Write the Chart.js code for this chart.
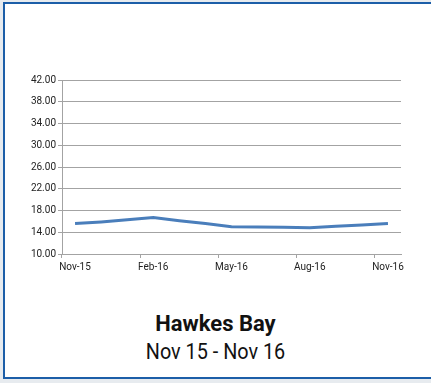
<!DOCTYPE html>
<html>
<head>
<meta charset="utf-8">
<script src="https://cdn.jsdelivr.net/npm/chart.js@4"></script>
<style>
  html, body { margin: 0; padding: 0; }
  body { width: 431px; height: 383px; background: #e7ebef; position: relative; overflow: hidden; }
  .panel {
    position: absolute; left: 3px; top: 2px; width: 450px; height: 373px;
    background: #fff; border: 2px solid #1c5ea8; border-right: none;
  }
  .chart-wrap { position: absolute; left: 0; top: 0; width: 431px; height: 280px; }
  .caption {
    position: absolute; left: 0; width: 431px; text-align: center; color: #111;
    font-family: "Liberation Sans Narrow", "Arial Narrow", Roboto, sans-serif;
    font-size: 22px; line-height: 1;
  }
  .caption.title { top: 313px; font-weight: bold; }
  .caption.sub { top: 341px; transform: scaleX(0.9); }
</style>
</head>
<body>
<div class="panel"></div>
<div class="chart-wrap"><canvas id="chart"></canvas></div>
<div class="caption title">Hawkes Bay</div>
<div class="caption sub">Nov 15 - Nov 16</div>

<script>
const months = ['Nov-15', 'Dec-15', 'Jan-16', 'Feb-16', 'Mar-16', 'Apr-16', 'May-16',
                'Jun-16', 'Jul-16', 'Aug-16', 'Sep-16', 'Oct-16', 'Nov-16'];
const values = [15.6, 15.9, 16.3, 16.7, 16.1, 15.6, 15.0, 14.95, 14.9, 14.85, 15.1, 15.35, 15.6];
const yMin = 10;
const yMax = 42;
const yStep = 4;

const gridGrey = '#a3a3a3';
const tickFont = { family: '"Liberation Sans Narrow", "Arial Narrow", Roboto, sans-serif', size: 10 };

const ctx = document.getElementById('chart').getContext('2d');
new Chart(ctx, {
  type: 'line',
  data: {
    labels: months,
    datasets: [{
      data: values,
      borderColor: '#4a7ebb',
      borderWidth: 3,
      pointRadius: 0,
      tension: 0,
      fill: false
    }]
  },
  options: {
    responsive: true,
    maintainAspectRatio: false,
    animation: false,
    layout: { padding: { left: 0, right: 30, top: 80, bottom: 0 } },
    plugins: {
      legend: { display: false },
      tooltip: { enabled: false }
    },
    scales: {
      x: {
        offset: true,
        grid: {
          offset: true,
          drawOnChartArea: false,
          tickLength: 4,
          // tick marks only at quarter boundaries
          tickColor: (c) => (c.index % 3 === 0 ? gridGrey : 'rgba(0,0,0,0)')
        },
        border: { color: gridGrey },
        ticks: {
          autoSkip: false,
          maxRotation: 0,
          padding: 3,
          color: '#222',
          font: tickFont,
          callback: function (val, i) { return i % 3 === 0 ? this.getLabelForValue(val) : ''; }
        },
        afterFit: (scale) => { scale.height = 26; }
      },
      y: {
        min: yMin,
        max: yMax,
        grid: { color: gridGrey, tickLength: 4 },
        border: { color: gridGrey },
        ticks: {
          stepSize: yStep,
          padding: 2,
          color: '#222',
          font: tickFont,
          callback: (v) => v.toFixed(2)
        },
        afterFit: (scale) => { scale.width = 62; }
      }
    }
  }
});
</script>
</body>
</html>
